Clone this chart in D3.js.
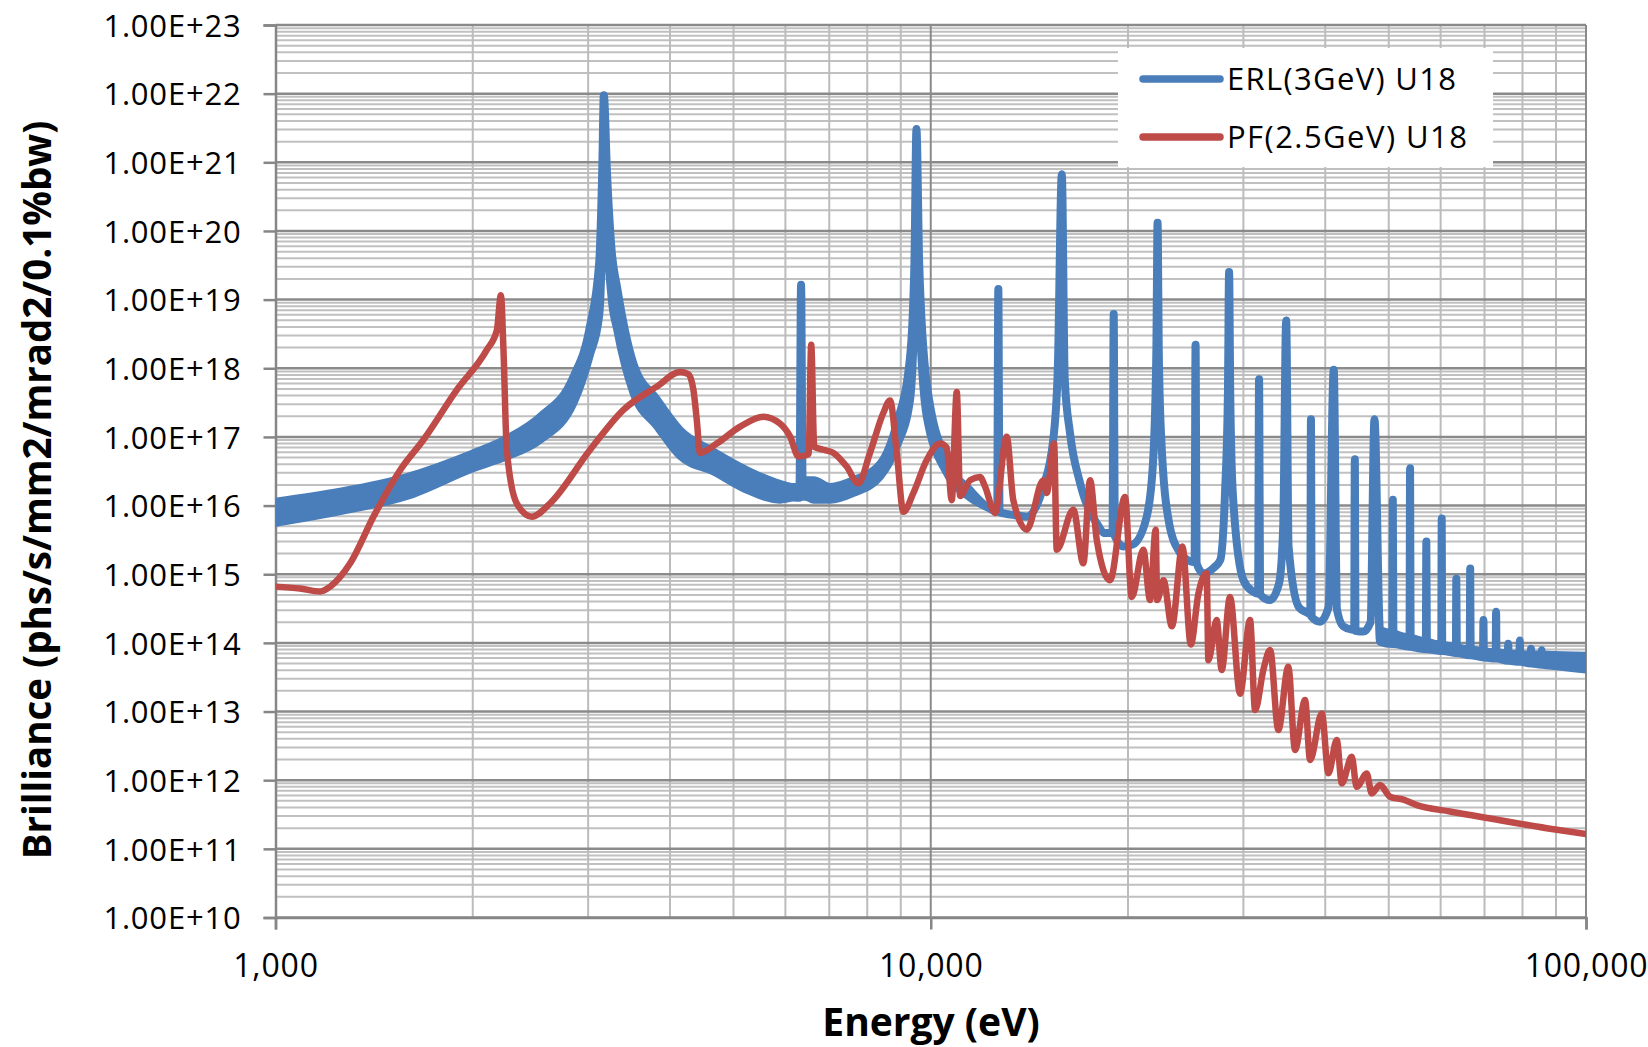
<!DOCTYPE html>
<html lang="en">
<head>
<meta charset="utf-8">
<title>Brilliance: ERL(3GeV) U18 vs PF(2.5GeV) U18</title>
<script src="https://d3js.org/d3.v7.min.js"></script>
<style>
  body { margin: 0; background: #fff; }
  svg text { font-family: "Open Sans", sans-serif; fill: #000; }
</style>
</head>
<body>
<script>
// ---- data ----
// ERL: the trace is drawn as a band between an upper and a lower edge;
// null in erlLower means the trace is a single line there.
var erlEnergy = [1000, 1255, 1587, 2002, 2254, 2536, 2849, 3017, 3119, 3153, 3170, 3206, 3260, 3320, 3517, 3821, 4145, 4659, 5241, 5886,
  6175, 6305, 6340, 6375, 6478, 6624, 7020, 7623, 8370, 8875, 9299, 9443, 9510, 9601, 9860, 10576, 11484,
  12232, 12630, 12680, 12730, 13414, 14020, 14850, 15375, 15630, 15850, 16013, 16312, 16900, 17920, 18450,
  18950, 19020, 19090, 19680, 20360, 21360, 21840, 22100, 22190, 22280, 22490, 23160, 23950, 24670,
  25270, 25360, 25450, 26070, 27050, 27660, 28120, 28420, 28530, 28640, 28910, 30000, 31010,
  31590, 31700, 31810, 32950, 34010, 34510, 34870, 35160, 36480, 37570, 37950, 38040, 38130, 39290,
  40460, 41210, 41680, 42620, 43900, 44280, 44380, 44480, 45710, 46900, 47550,
  48490, 50620, 50720, 50820, 53790, 53890, 53990, 54580, 56960, 57060, 57160, 60130, 60230, 60330,
  61290, 63300, 63400, 63500, 66470, 66570, 66670, 68870, 69640, 69740, 69840, 72810, 72910, 73010,
  75980, 76080, 76180, 77500, 79150, 79250, 79350, 82320, 82420, 82520, 85490, 85590, 85690, 87220, 100000]
var erlUpper = [1.14e16, 1.59e16, 2.6e16, 5.75e16, 9.4e16, 1.97e17, 7.5e17, 3.95e18, 3.5e19, 8.3e20, 9.5e21, 6.9e20, 4.9e19, 1.54e19, 1.17e18, 3.5e17, 1.25e17, 6.1e16, 3.27e16, 2.07e16,
  1.86e16, 1.9e16, 1.65e19, 2.2e16, 2.34e16, 2.34e16, 1.86e16, 2.34e16, 4.04e16, 1.57e17, 1.47e18, 3.5e19, 3.05e21, 3.5e19, 6.0e17, 4.57e16, 1.67e16,
  9.35e15, 8.1e15, 1.43e19, 8.0e15, 7.3e15, 6.9e15, 1.89e16, 8.9e16, 1.02e18, 6.7e20, 7.1e17, 1.14e17, 2.13e16, 5.5e15, 3.97e15,
  4.0e15, 6.15e18, 3.6e15, 2.54e15, 2.72e15, 6.9e15, 4.26e16, 2.0e18, 1.32e20, 2.0e18, 8.6e16, 4.96e15, 2.13e15, 1.6e15,
  1.5e15, 2.21e18, 1.45e15, 1.03e15, 1.25e15, 1.61e15, 1.48e16, 5.0e17, 2.52e19, 5.0e17, 1.48e16, 8.2e14, 5.6e14,
  5.2e14, 6.9e17, 5.1e14, 4.2e14, 7.4e14, 5.1e15, 4.97e18, 2.54e15, 3.28e14, 2.75e14, 2.6e14, 1.81e17, 2.4e14, 2.04e14,
  3.28e14, 9.5e17, 3.06e14, 1.74e14, 1.56e14, 1.55e14, 4.73e16, 1.5e14, 1.46e14, 2.0e14, 1.81e17,
  1.54e14, 1.4e14, 1.22e16, 1.4e14, 1.2e14, 3.5e16, 1.2e14, 1.16e14, 1.05e14, 3.0e15, 1.05e14, 9.5e13, 6.5e15, 9.5e13,
  9.2e13, 8.7e13, 8.6e14, 8.7e13, 8.1e13, 1.21e15, 8.1e13, 7.7e13, 7.6e13, 2.15e14, 7.6e13, 7.3e13, 2.85e14, 7.3e13,
  7.0e13, 9.7e13, 7.0e13, 6.95e13, 6.9e13, 1.08e14, 6.9e13, 6.8e13, 8.2e13, 6.8e13, 6.75e13, 7.8e13, 6.75e13, 6.7e13, 6.5e13]
var erlLower = [5.6e15, 8.3e15, 1.38e16, 3.5e16, 5.2e16, 9.1e16, 3.1e17, 1.53e18, 5.9e18, 1.42e20, null, 1.19e20, 1.0e19, 3.75e18, 4.4e17, 1.44e17, 5.3e16, 3.15e16, 1.7e16, 1.22e16,
  1.31e16, 1.3e16, null, 1.35e16, 1.33e16, 1.22e16, 1.22e16, 1.53e16, 2.65e16, 7.4e16, 3.5e17, 8.4e18, null, 8.4e18, 2.0e17, 3.0e16, 1.31e16,
  null, null, null, null, null, null, null, null, null, null, null, null, null, null, null,
  null, null, null, null, null, null, null, null, null, null, null, null, null, null,
  null, null, null, null, null, null, null, null, null, null, null, null, null,
  null, null, null, null, null, null, null, null, null, null, null, null, null, null,
  null, null, null, null, null, null, null, null, null, null, null,
  1.04e14, 9.6e13, 9.6e13, 9.6e13, 8.8e13, 8.8e13, 8.8e13, 8.6e13, 8.1e13, 8.1e13, 8.1e13, 7.6e13, 7.6e13, 7.6e13,
  7.5e13, 7.1e13, 7.1e13, 7.1e13, 6.6e13, 6.6e13, 6.6e13, 6.25e13, 6.15e13, 6.15e13, 6.15e13, 5.9e13, 5.9e13, 5.9e13,
  5.5e13, 5.5e13, 5.5e13, 5.4e13, 5.3e13, 5.3e13, 5.3e13, 5.0e13, 5.0e13, 5.0e13, 4.8e13, 4.8e13, 4.8e13, 4.7e13, 4.1e13]

var pfEnergy = [1000, 1090, 1170, 1212, 1300, 1411, 1550, 1682, 1891, 2101, 2177, 2208, 2228, 2254, 2334, 2461, 2625, 3021, 3396, 3818,
  4145, 4267, 4343, 4395, 4445, 4714, 5117, 5554, 5886, 6101, 6282, 6510, 6570, 6640, 6859, 7105, 7442, 7753, 8077, 8464,
  8667, 8875, 9085, 9409, 9860, 10333, 10576, 10765, 10957, 11088, 11482, 11892, 12104, 12534, 13058, 13366, 14015, 14855, 15031, 15427,
  15569, 16504, 17093, 17503, 17923, 18774, 19790, 20266, 21107, 21613, 22040, 22162, 22652, 23335, 24215, 24940, 25610, 26370, 26530, 27310,
  27800, 28620, 29650, 30710, 31260, 32180, 32950, 33920, 35130, 35970, 37260, 37920, 39520, 40450, 41650, 42400, 43900, 44670, 46280, 47090,
  48490, 50230, 52650, 55170, 61990, 68900, 87100, 100000]
var pfValue = [6.6e14, 6.2e14, 5.6e14, 6.6e14, 1.44e15, 6.9e15, 3.3e16, 9.1e16, 4.85e17, 1.85e18, 3.6e18, 1.16e19, 1.85e18, 6.5e16, 1.08e16, 6.9e15, 1.08e16, 6.5e16, 2.48e17, 5.4e17,
  8.8e17, 8.2e17, 4.85e17, 1.75e17, 5.85e16, 8.0e16, 1.41e17, 1.97e17, 1.57e17, 1.01e17, 5.2e16, 5.6e16, 2.2e18, 7.2e16, 6.5e16, 5.85e16, 3.7e16, 2.1e16, 5.85e16, 2.23e17,
  3.4e17, 5.85e16, 8.1e15, 1.53e16, 4.6e16, 8.0e16, 7.0e16, 1.2e16, 4.5e17, 1.38e16, 2.34e16, 2.6e16, 1.89e16, 7.8e15, 1.01e17, 1.2e16, 4.46e15, 2.34e16, 1.53e16, 8.0e16,
  2.28e15, 8.7e15, 1.44e15, 2.34e16, 3.13e15, 8.2e14, 1.33e16, 4.67e14, 2.28e15, 4.2e14, 4.46e15, 4.2e14, 8.2e14, 1.74e14, 2.54e15, 9.5e13, 5.2e14, 1.03e15, 5.6e13, 2.15e14,
  4.03e13, 4.67e14, 1.82e13, 2.15e14, 1.05e13, 4.03e13, 7.9e13, 5.4e12, 4.5e13, 2.75e12, 1.47e13, 1.97e12, 9.4e12, 1.26e12, 3.85e12, 9.0e11, 2.19e12, 8.0e11, 1.25e12, 6.4e11,
  8.5e11, 5.75e11, 5.2e11, 4.34e11, 3.5e11, 2.94e11, 2.0e11, 1.64e11]

var seriesNames = ["ERL(3GeV) U18", "PF(2.5GeV) U18"]
var seriesColors = ["#4a7ebb", "#be4b48"]
var xDomain = [1000, 100000]
var yDomain = [1e10, 1e23]
var xTickValues = [1000, 10000, 100000]
var xTitle = "Energy (eV)"
var yTitle = "Brilliance (phs/s/mm2/mrad2/0.1%bw)"

// ---- layout ----
var w = 1648
var h = 1047
var plotLeft = 275.5, plotRight = 1586, plotTop = 25, plotBottom = 917.5

var xScale = d3.scaleLog().domain(xDomain).range([plotLeft, plotRight])
var yScale = d3.scaleLog().domain(yDomain).range([plotBottom, plotTop])

var svg = d3.select("body").append("svg")
  .attr("width", w)
  .attr("height", h)

// gridlines: minor first, then major
var yAll = yScale.ticks(30)
var yMajor = yAll.filter(function(d){ return Math.abs(Math.log10(d) - Math.round(Math.log10(d))) < 1e-9 })
var yMinor = yAll.filter(function(d){ return yMajor.indexOf(d) < 0 })
var xAll = xScale.ticks(30)
var xMinor = xAll.filter(function(d){ return xTickValues.indexOf(d) < 0 })

var grid = svg.append("g")
grid.selectAll("line.yminor").data(yMinor).enter().append("line")
  .attr("class", "yminor")
  .attr("x1", plotLeft).attr("x2", plotRight)
  .attr("y1", function(d){ return yScale(d) }).attr("y2", function(d){ return yScale(d) })
  .attr("stroke", "#c0c0c0").attr("stroke-width", 2)
grid.selectAll("line.xminor").data(xMinor).enter().append("line")
  .attr("class", "xminor")
  .attr("y1", plotTop).attr("y2", plotBottom)
  .attr("x1", function(d){ return xScale(d) }).attr("x2", function(d){ return xScale(d) })
  .attr("stroke", "#bcbcbc").attr("stroke-width", 2)
grid.selectAll("line.ymajor").data(yMajor).enter().append("line")
  .attr("class", "ymajor")
  .attr("x1", plotLeft).attr("x2", plotRight)
  .attr("y1", function(d){ return yScale(d) }).attr("y2", function(d){ return yScale(d) })
  .attr("stroke", "#8a8a8a").attr("stroke-width", 2.5)
grid.selectAll("line.xmajor").data(xTickValues.slice(1)).enter().append("line")
  .attr("class", "xmajor")
  .attr("y1", plotTop).attr("y2", plotBottom)
  .attr("x1", function(d){ return xScale(d) }).attr("x2", function(d){ return xScale(d) })
  .attr("stroke", "#8a8a8a").attr("stroke-width", 2)

// axes
var yAxis = d3.axisLeft(yScale)
  .tickValues(yMajor)
  .tickSize(12)
  .tickPadding(22)
  .tickFormat(function(d){ return "1.00E+" + Math.round(Math.log10(d)) })
var gy = svg.append("g").attr("transform", "translate(" + plotLeft + ",0)").call(yAxis)
var xAxis = d3.axisBottom(xScale)
  .tickValues(xTickValues)
  .tickSize(12)
  .tickPadding(25)
  .tickFormat(d3.format(","))
var gx = svg.append("g").attr("transform", "translate(0," + plotBottom + ")").call(xAxis)
;[gx, gy].forEach(function(g){
  g.select(".domain").attr("stroke", "#868686").attr("stroke-width", 2.5)
  g.selectAll(".tick line").attr("stroke", "#868686").attr("stroke-width", 2.5)
  g.selectAll(".tick text").attr("font-size", 31).attr("font-family", "Open Sans")
    .attr("letter-spacing", "0.8px").attr("fill", "#000")
})
gy.selectAll(".tick text").attr("dy", "0.36em")
gx.selectAll(".tick text").attr("font-size", 32)

// plot clip
svg.append("clipPath").attr("id", "plotclip").append("rect")
  .attr("x", plotLeft).attr("y", plotTop).attr("width", plotRight - plotLeft).attr("height", plotBottom - plotTop)

var plot = svg.append("g").attr("clip-path", "url(#plotclip)")

// ERL band / line
var erlData = erlEnergy.map(function(e, i){
  return { e: e, hi: erlUpper[i], lo: erlLower[i] == null ? erlUpper[i] : erlLower[i] }
})
var erlArea = d3.area()
  .curve(d3.curveMonotoneX)
  .x(function(d){ return xScale(d.e) })
  .y0(function(d){ return yScale(d.lo) })
  .y1(function(d){ return yScale(d.hi) })
plot.append("path").datum(erlData)
  .attr("d", erlArea)
  .attr("fill", seriesColors[0])
  .attr("stroke", seriesColors[0])
  .attr("stroke-width", 8)
  .attr("stroke-linejoin", "round")

// PF line
var pfData = pfEnergy.map(function(e, i){ return { e: e, v: pfValue[i] } })
var pfLine = d3.line()
  .curve(d3.curveMonotoneX)
  .x(function(d){ return xScale(d.e) })
  .y(function(d){ return yScale(d.v) })
plot.append("path").datum(pfData)
  .attr("d", pfLine)
  .attr("fill", "none")
  .attr("stroke", seriesColors[1])
  .attr("stroke-width", 6.5)
  .attr("stroke-linejoin", "round")
  .attr("stroke-linecap", "round")

// legend
var legend = svg.append("g")
legend.append("rect")
  .attr("x", 1118).attr("y", 48).attr("width", 375).attr("height", 119)
  .attr("fill", "#fff")
legend.selectAll("line").data(seriesNames).enter().append("line")
  .attr("x1", 1143).attr("x2", 1220)
  .attr("y1", function(d, i){ return 79 + i * 58 }).attr("y2", function(d, i){ return 79 + i * 58 })
  .attr("stroke", function(d, i){ return seriesColors[i] })
  .attr("stroke-width", 7.5)
  .attr("stroke-linecap", "round")
legend.selectAll("text").data(seriesNames).enter().append("text")
  .attr("x", 1227)
  .attr("y", function(d, i){ return 90 + i * 58 })
  .attr("font-size", 31)
  .attr("textLength", function(d, i){ return i == 0 ? 229 : 240 })
  .attr("lengthAdjust", "spacing")
  .text(function(d){ return d })

// axis titles
svg.append("text")
  .attr("x", 931).attr("y", 1036)
  .attr("text-anchor", "middle")
  .attr("font-size", 39).attr("font-weight", 700)
  .text(xTitle)
svg.append("text")
  .attr("transform", "translate(51,490) rotate(-90)")
  .attr("text-anchor", "middle")
  .attr("font-size", 38.5).attr("font-weight", 700)
  .text(yTitle)
</script>
</body>
</html>
